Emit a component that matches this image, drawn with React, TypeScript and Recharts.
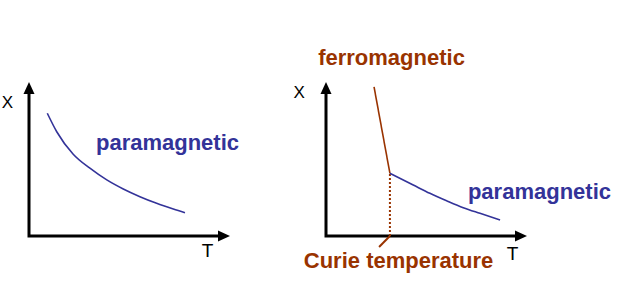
import React from 'react';
import { ComposedChart, Line, XAxis, YAxis, Scatter, ReferenceDot, ReferenceLine } from 'recharts';

const FONT = '"Liberation Sans", Arial, Helvetica, sans-serif';
const BLUE = '#333399';
const BROWN = '#993300';

// Left panel: paramagnetic susceptibility vs temperature
const leftT = [0.91, 1.38, 2.2, 3.03, 3.87, 4.69, 5.52, 6.35, 7.18, 7.76];
const leftChi = [7.97, 6.77, 5.31, 4.4, 3.64, 3.05, 2.55, 2.12, 1.75, 1.51];

// Right panel: ferromagnetic branch and paramagnetic branch
const ferroT = [2.39, 3.18];
const ferroChi = [9.68, 4.07];
const paraT = [3.18, 4.34, 5.17, 6.0, 6.83, 7.66, 8.66];
const paraChi = [4.07, 3.31, 2.77, 2.29, 1.84, 1.47, 1.04];
const curieT = 3.18;
const curieChi = 4.07;

const axisMax = 10;
const axisLineEnd = 9.6;

const zip = (ts: number[], cs: number[]) => ts.map((T, i) => ({ T, chi: cs[i] }));

const axisFrame = [
  { T: 0, chi: axisLineEnd },
  { T: 0, chi: 0 },
  { T: axisLineEnd, chi: 0 },
];
const arrowTips = [
  { T: axisMax, chi: 0, dir: 'right' },
  { T: 0, chi: axisMax, dir: 'up' },
];

const ArrowHead = (props: any) => {
  const { cx, cy, payload } = props;
  if (cx == null || cy == null) return null;
  const L = 12;
  const H = 5.5;
  const pts =
    payload.dir === 'right'
      ? `${cx},${cy} ${cx - L},${cy - H} ${cx - L},${cy + H}`
      : `${cx},${cy} ${cx - H},${cy + L} ${cx + H},${cy + L}`;
  return <polygon points={pts} fill="#000" />;
};

const textLabel = (text: string, color: string, size: number, weight: string) => (p: any) => {
  const vb = p.viewBox || {};
  const x = vb.x + (vb.width || 0) / 2;
  const y = vb.y + (vb.height || 0) / 2;
  return (
    <text
      x={x}
      y={y}
      textAnchor="middle"
      dominantBaseline="central"
      fill={color}
      fontSize={size}
      fontWeight={weight}
      fontFamily={FONT}
    >
      {text}
    </text>
  );
};

export default function App() {
  return (
    <div style={{ position: 'fixed', left: 0, top: 0, width: 630, height: 281, background: '#fff', display: 'flex' }}>
      <ComposedChart width={290} height={281} margin={{ left: 29, right: 60, top: 82, bottom: 45 }}>
        <XAxis type="number" dataKey="T" domain={[0, axisMax]} hide />
        <YAxis type="number" dataKey="chi" domain={[0, axisMax]} hide />
        <Line data={axisFrame} dataKey="chi" stroke="#000" strokeWidth={3} dot={false} activeDot={false} isAnimationActive={false} type="linear" strokeLinejoin="miter" />
        <Scatter data={arrowTips} dataKey="chi" shape={ArrowHead} isAnimationActive={false} />
        <Line data={zip(leftT, leftChi)} dataKey="chi" stroke={BLUE} strokeWidth={1.6} dot={false} activeDot={false} isAnimationActive={false} type="monotone" />
        <ReferenceDot x={6.89} y={6.04} r={0} ifOverflow="visible" label={textLabel('paramagnetic', BLUE, 22, 'bold')} />
        <ReferenceDot x={-1.07} y={8.7} r={0} ifOverflow="visible" label={textLabel('X', '#000', 17, 'normal')} />
        <ReferenceDot x={8.88} y={-0.91} r={0} ifOverflow="visible" label={textLabel('T', '#000', 19, 'normal')} />
      </ComposedChart>
      <ComposedChart width={340} height={281} margin={{ left: 36, right: 103, top: 82, bottom: 45 }}>
        <XAxis type="number" dataKey="T" domain={[0, axisMax]} hide />
        <YAxis type="number" dataKey="chi" domain={[0, axisMax]} hide />
        <Line data={axisFrame} dataKey="chi" stroke="#000" strokeWidth={3} dot={false} activeDot={false} isAnimationActive={false} type="linear" strokeLinejoin="miter" />
        <Scatter data={arrowTips} dataKey="chi" shape={ArrowHead} isAnimationActive={false} />
        <ReferenceLine segment={[{ x: curieT, y: 0 }, { x: curieT, y: curieChi }]} stroke={BROWN} strokeWidth={2} strokeDasharray="2 2" ifOverflow="visible" />
        <ReferenceLine segment={[{ x: curieT, y: 0 }, { x: 2.64, y: -0.71 }]} stroke={BROWN} strokeWidth={2} ifOverflow="visible" />
        <Line data={zip(ferroT, ferroChi)} dataKey="chi" stroke={BROWN} strokeWidth={1.6} dot={false} activeDot={false} isAnimationActive={false} type="linear" />
        <Line data={zip(paraT, paraChi)} dataKey="chi" stroke={BLUE} strokeWidth={1.6} dot={false} activeDot={false} isAnimationActive={false} type="monotone" />
        <ReferenceDot x={3.26} y={11.62} r={0} ifOverflow="visible" label={textLabel('ferromagnetic', BROWN, 22, 'bold')} />
        <ReferenceDot x={10.62} y={2.92} r={0} ifOverflow="visible" label={textLabel('paramagnetic', BLUE, 22, 'bold')} />
        <ReferenceDot x={3.61} y={-1.56} r={0} ifOverflow="visible" label={textLabel('Curie temperature', BROWN, 22, 'bold')} />
        <ReferenceDot x={-1.34} y={9.32} r={0} ifOverflow="visible" label={textLabel('X', '#000', 17, 'normal')} />
        <ReferenceDot x={9.28} y={-1.14} r={0} ifOverflow="visible" label={textLabel('T', '#000', 19, 'normal')} />
      </ComposedChart>
    </div>
  );
}
